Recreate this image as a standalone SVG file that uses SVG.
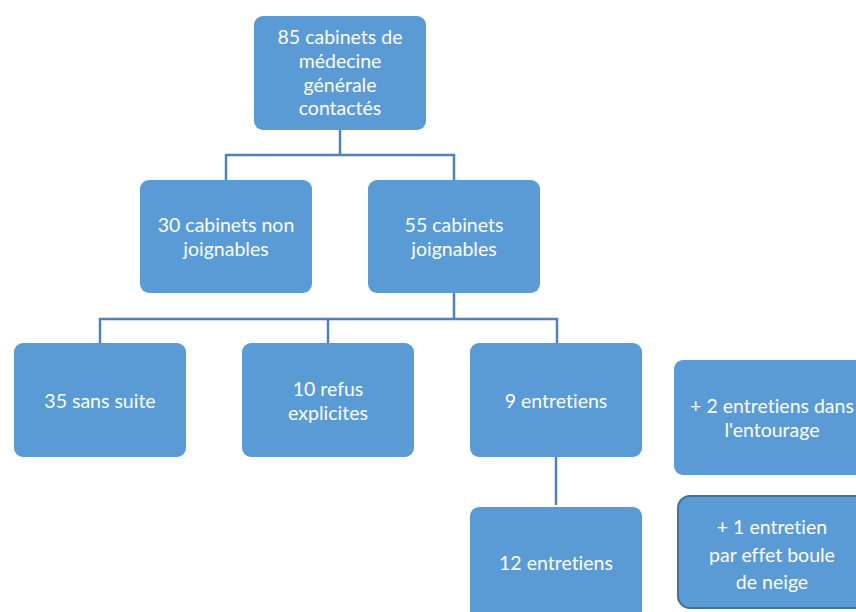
<svg xmlns="http://www.w3.org/2000/svg" width="856" height="612" viewBox="0 0 856 612">
<style>
.n{fill:#5B9BD5}
.o{fill:#5B9BD5;stroke:#41719C;stroke-width:2}
.t{font-family:Lato,"Open Sans",sans-serif;font-size:19.5px;fill:#fff;text-anchor:middle;font-variant-ligatures:none;font-feature-settings:"liga" 0,"dlig" 0}
.c{stroke:#4F81BD;stroke-width:2.5;fill:none}
</style>
<rect width="856" height="612" fill="#fff"/>
<g id="connectors">
<path class="c" d="M340 130V155M226 180V155H454V180"/>
<path class="c" d="M454 293V319M100 343V319H557V343M328 319V343"/>
<path class="c" d="M556 457V505"/>
</g>
<g id="n1"><rect class="n" x="254" y="16" width="172" height="114" rx="9"/>
<text class="t"><tspan x="340" y="44">85 cabinets de</tspan><tspan x="340" y="68">médecine</tspan><tspan x="340" y="92">générale</tspan><tspan x="340" y="115">contactés</tspan></text></g>
<g id="n2"><rect class="n" x="140" y="180" width="172" height="113" rx="9"/>
<text class="t"><tspan x="226" y="232">30 cabinets non</tspan><tspan x="226" y="256">joignables</tspan></text></g>
<g id="n3"><rect class="n" x="368" y="180" width="172" height="113" rx="9"/>
<text class="t"><tspan x="454" y="232">55 cabinets</tspan><tspan x="454" y="256">joignables</tspan></text></g>
<g id="n4"><rect class="n" x="14" y="343" width="172" height="114" rx="9"/>
<text class="t"><tspan x="100" y="408">35 sans suite</tspan></text></g>
<g id="n5"><rect class="n" x="242" y="343" width="172" height="114" rx="9"/>
<text class="t"><tspan x="328" y="396">10 refus</tspan><tspan x="328" y="420">explicites</tspan></text></g>
<g id="n6"><rect class="n" x="470" y="343" width="172" height="114" rx="9"/>
<text class="t"><tspan x="556" y="408">9 entretiens</tspan></text></g>
<g id="n7"><rect class="n" x="674" y="360" width="196" height="115" rx="9"/>
<text class="t"><tspan x="772" y="413">+ 2 entretiens dans</tspan><tspan x="772" y="437">l'entourage</tspan></text></g>
<g id="n8"><rect class="n" x="470" y="507" width="172" height="114" rx="9"/>
<text class="t"><tspan x="556" y="570">12 entretiens</tspan></text></g>
<g id="n9"><rect class="o" x="678" y="496" width="192" height="112" rx="12"/>
<text class="t"><tspan x="772" y="534">+ 1 entretien</tspan><tspan x="772" y="562">par effet boule</tspan><tspan x="772" y="589">de neige</tspan></text></g>
</svg>
